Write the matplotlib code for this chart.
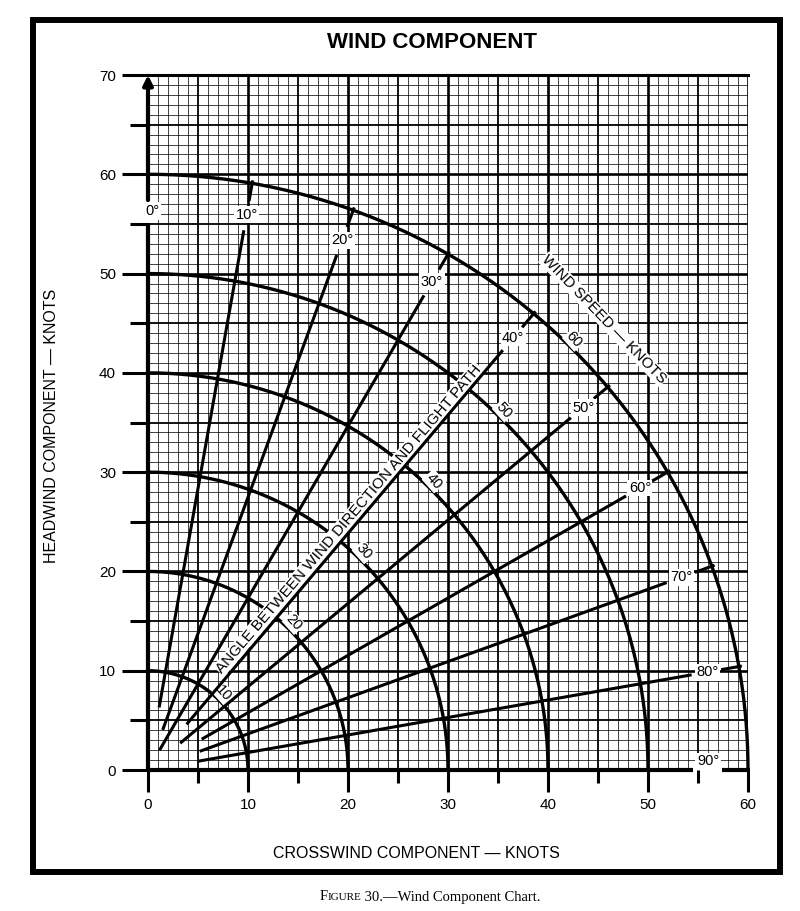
import numpy as np
import matplotlib
matplotlib.use("Agg")
import matplotlib.pyplot as plt
from matplotlib.patches import Rectangle
from matplotlib.offsetbox import TextArea, HPacker, AnnotationBbox

plt.rcParams['font.family'] = ['Liberation Sans', 'DejaVu Sans']

# ---- data ----
wind_speeds = [10, 20, 30, 40, 50, 60]            # arcs (knots)
angles = [10, 20, 30, 40, 50, 60, 70, 80]         # radial lines (deg)
angle_start_r = [6.4, 4.3, 2.3, 6.0, 4.2, 6.2, 5.5, 5.1]
x_major = [0, 10, 20, 30, 40, 50, 60]
y_major = [0, 10, 20, 30, 40, 50, 60, 70]
x_minor = [5, 15, 25, 35, 45, 55]
y_minor = [5, 15, 25, 35, 45, 55, 65]

W, H = 800, 911
fig = plt.figure(figsize=(W / 100, H / 100), dpi=100)
ax = fig.add_axes([148 / W, (H - 770) / H, 600 / W, 695 / H])
ax.set_xlim(0, 60)
ax.set_ylim(0, 70)
for s in ax.spines.values():
    s.set_visible(False)

# ---- grid ----
fine = np.arange(0, 61, 1)
finey = np.arange(0, 71, 1)
ax.vlines([v for v in fine if v % 5], 0, 70, color='black', lw=0.7, alpha=0.75, zorder=1)
ax.hlines([v for v in finey if v % 5], 0, 60, color='black', lw=0.7, alpha=0.75, zorder=1)
ax.vlines([v for v in fine if v % 5 == 0 and v % 10], 0, 70, color='black', lw=1.3, zorder=1)
ax.hlines([v for v in finey if v % 5 == 0 and v % 10], 0, 60, color='black', lw=1.3, zorder=1)
ax.vlines([v for v in fine if v % 10 == 0 and v > 0], 0, 70, color='black', lw=1.9, zorder=1)
ax.hlines([v for v in finey if v % 10 == 0 and 0 < v < 70], 0, 60, color='black', lw=1.9, zorder=1)

# ---- ticks ----
ax.set_xticks(x_major)
ax.set_xticks(x_minor, minor=True)
ax.set_yticks(y_major)
ax.set_yticks(y_minor, minor=True)
ax.tick_params(axis='x', which='major', direction='out', length=16, width=2.2, pad=4, labelsize=11)
ax.tick_params(axis='x', which='minor', direction='out', length=9, width=2.2)
ax.tick_params(axis='y', which='major', direction='out', length=19, width=2.2, pad=4, labelsize=11)
ax.tick_params(axis='y', which='minor', direction='out', length=13, width=2.2)

# ---- axes lines ----
ax.plot([0, 60], [70, 70], color='black', lw=2.2, clip_on=False, zorder=6)
ax.plot([0, 0], [0, 55.1], color='black', lw=3.0, clip_on=False, zorder=6, solid_capstyle='butt')
ax.annotate('', xy=(0, 70), xytext=(0, 57.4),
            arrowprops=dict(arrowstyle='-|>', lw=3.0, color='black', mutation_scale=14,
                            shrinkA=0, shrinkB=0), annotation_clip=False, zorder=6)
ax.plot([0, 54.5], [0, 0], color='black', lw=3.0, clip_on=False, zorder=6, solid_capstyle='butt')
ax.plot([57.4, 60.2], [0, 0], color='black', lw=3.0, clip_on=False, zorder=6, solid_capstyle='butt')

# ---- arcs ----
th = np.radians(np.linspace(0, 90, 300))
for r in wind_speeds:
    ax.plot(r * np.sin(th), r * np.cos(th), color='black', lw=2.4, zorder=3,
            solid_capstyle='butt', clip_on=False)

# ---- radial angle lines ----
label_r = 56.8
for a, r0 in zip(angles, angle_start_r):
    t = np.radians(a)
    s, c = np.sin(t), np.cos(t)
    ax.plot([r0 * s, 55.2 * s], [r0 * c, 55.2 * c], color='black', lw=2.2, zorder=5,
            solid_capstyle='butt')
    ax.plot([58.2 * s, 60.3 * s], [58.2 * c, 60.3 * c], color='black', lw=2.2, zorder=5,
            solid_capstyle='butt')
    ax.text(label_r * s, label_r * c, f'{a}°', ha='center', va='center', fontsize=10.5,
            zorder=7, bbox=dict(facecolor='white', edgecolor='none', pad=1.0))

ax.text(0.4, 56.3, '0°', ha='center', va='center', fontsize=10.5, zorder=7,
        bbox=dict(facecolor='white', edgecolor='none', pad=1.2))
ax.text(56.0, 0.9, '90°', ha='center', va='center', fontsize=10.5, zorder=7,
        bbox=dict(facecolor='white', edgecolor='none', pad=1.0))

# ---- arc labels ----
for r in wind_speeds:
    t = np.radians(44.5)
    ax.text((r + 0.8) * np.sin(t), (r + 0.8) * np.cos(t), str(r), ha='center', va='center',
            rotation=-48, rotation_mode='anchor', fontsize=10.5, zorder=4,
            bbox=dict(facecolor='white', edgecolor='none', pad=0.8))

# ---- oblique texts ----
ax.text(20.1, 25.3, 'ANGLE BETWEEN WIND DIRECTION AND FLIGHT PATH', ha='center', va='center',
        rotation=49.5, rotation_mode='anchor', fontsize=11, zorder=4,
        bbox=dict(facecolor='white', edgecolor='none', pad=0.6))
ax.text(45.6, 45.4, 'WIND SPEED — KNOTS', ha='center', va='center',
        rotation=-46, rotation_mode='anchor', fontsize=11, zorder=4,
        bbox=dict(facecolor='white', edgecolor='none', pad=0.6))

# ---- figure texts ----
fig.text(432 / W, 1 - 42 / H, 'WIND COMPONENT', ha='center', va='center',
         fontsize=16, fontweight='bold')
fig.text(416 / W, 1 - 853 / H, 'CROSSWIND COMPONENT — KNOTS', ha='center', va='center',
         fontsize=11.5)
fig.text(52 / W, 1 - 426 / H, 'HEADWIND COMPONENT — KNOTS', ha='center', va='center',
         rotation=90, fontsize=11.5)

# outer frame
fig.patches.append(Rectangle((33 / W, (H - 872) / H), (780 - 33) / W, (872 - 20) / H,
                             transform=fig.transFigure, fill=False, lw=4.3,
                             edgecolor='black'))

# caption with small caps
serif = ['Liberation Serif', 'DejaVu Serif']
parts = [TextArea('F', textprops=dict(fontsize=10.5, family=serif)),
         TextArea('IGURE', textprops=dict(fontsize=8, family=serif)),
         TextArea(' 30.—Wind Component Chart.', textprops=dict(fontsize=10.5, family=serif))]
pack = HPacker(children=parts, align='baseline', pad=0, sep=0)
ab = AnnotationBbox(pack, (430 / W, 1 - 897 / H), xycoords='figure fraction',
                    frameon=False, box_alignment=(0.5, 0.5))
fig.add_artist(ab)

fig.savefig('out.png', dpi=100, facecolor='white')
